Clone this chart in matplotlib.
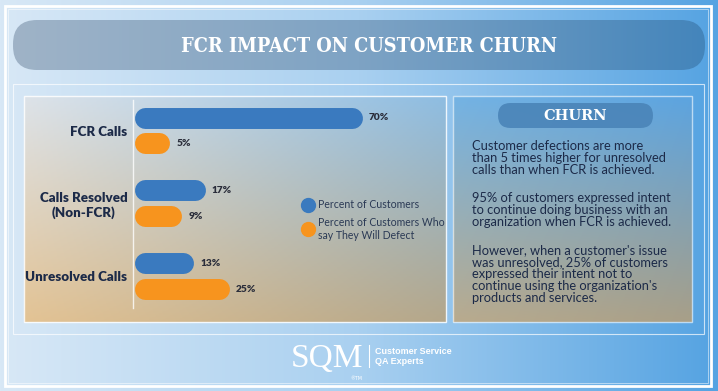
import numpy as np
import matplotlib
matplotlib.use("Agg")
import matplotlib.pyplot as plt
from matplotlib.patches import FancyBboxPatch, Rectangle
from matplotlib.lines import Line2D
from matplotlib.colors import to_rgb

# datos del grafico
categorias = ["FCR Calls", "Calls Resolved\n(Non-FCR)", "Unresolved Calls"]
pct_clientes = [70, 17, 13]
pct_desertan = [5, 9, 25]
series = ["Percent of Customers", "Percent of Customers Who\nsay They Will Defect"]

titulo = "FCR IMPACT ON CUSTOMER CHURN"
parrafos = [
    "Customer defections are more\nthan 5 times higher for unresolved\ncalls than when FCR is achieved.",
    "95% of customers expressed intent\nto continue doing business with an\norganization when FCR is achieved.",
    "However, when a customer's issue\nwas unresolved, 25% of customers\nexpressed their intent not to\ncontinue using the organization's\nproducts and services.",
]

AZUL = "#3a7abf"
NARANJA = "#f7941e"
TINTA = "#1c2a48"
W, H = 718, 391


def degradado_h(colores, n=256):
    stops = np.linspace(0, 1, len(colores))
    cols = np.array([to_rgb(c) for c in colores])
    t = np.linspace(0, 1, n)
    fila = np.stack([np.interp(t, stops, cols[:, k]) for k in range(3)], axis=-1)
    return fila[np.newaxis, :, :]


def degradado_4(tl, tr, bl, br, n=128):
    tl, tr, bl, br = [np.array(to_rgb(c)) for c in (tl, tr, bl, br)]
    u = np.linspace(0, 1, n)[np.newaxis, :, np.newaxis]
    v = np.linspace(0, 1, n)[:, np.newaxis, np.newaxis]
    arriba = tl * (1 - u) + tr * u
    abajo = bl * (1 - u) + br * u
    return arriba * (1 - v) + abajo * v


fig = plt.figure(figsize=(W / 100, H / 100), dpi=100)
bg = fig.add_axes([0, 0, 1, 1])
bg.set_xlim(0, W)
bg.set_ylim(H, 0)
bg.axis("off")

# fondo general
bg.imshow(degradado_h(["#d8e8f6", "#a9d0f0", "#55a3e2"]), extent=(0, W, H, 0), aspect="auto", zorder=0)
bg.add_patch(Rectangle((5, 6), 706, 380, fill=False, ec="white", lw=2, zorder=1))
bg.add_patch(Rectangle((8, 9), 700, 374, fill=False, ec="white", lw=0.6, alpha=0.6, zorder=1))
bg.add_patch(Rectangle((13, 84), 691, 250, fill=False, ec="white", lw=0.8, alpha=0.7, zorder=1))

# cinta del titulo
cinta = FancyBboxPatch((13, 20), 692, 50, boxstyle="round,pad=0,rounding_size=24",
                       fc="none", ec="none", zorder=2)
bg.add_patch(cinta)
im = bg.imshow(degradado_h(["#9fb3c7", "#7ea3c4", "#4485bb"]), extent=(13, 705, 70, 20),
               aspect="auto", zorder=2)
im.set_clip_path(cinta)
bg.text(369, 45.5, titulo, color="white", fontsize=14.2, fontweight="bold",
        family="DejaVu Serif", fontstretch="condensed", ha="center", va="center", zorder=3)

# panel izquierdo
bg.imshow(degradado_4("#dde3e9", "#8ebde2", "#e3c394", "#b4a78b"), extent=(24, 446, 322, 96),
          aspect="auto", zorder=2)
bg.add_patch(Rectangle((24, 96), 422, 226, fill=False, ec="white", lw=1, alpha=0.85, zorder=3))

# panel derecho
bg.imshow(degradado_4("#74b3e4", "#5ca4e0", "#b9ab8e", "#a89f88"), extent=(453, 692, 322, 96),
          aspect="auto", zorder=2)
bg.add_patch(Rectangle((453, 96), 239, 226, fill=False, ec="white", lw=1, alpha=0.6, zorder=3))
bg.add_patch(FancyBboxPatch((498, 103), 155, 25, boxstyle="round,pad=0,rounding_size=12.5",
                            fc="#4a84b8", ec="none", alpha=0.9, zorder=3))
bg.text(575.5, 115.5, "CHURN", color="white", fontsize=10.5, fontweight="bold",
        family="DejaVu Serif", ha="center", va="center", zorder=4)
for texto, yc in zip(parrafos, [158, 210, 274.5]):
    bg.text(472, yc, texto, color=TINTA, fontsize=9.3, family="Lato", ha="left", va="center",
            linespacing=1.0, zorder=4)

# logo
bg.text(327, 367, "SQM", color="white", fontsize=24, family="Liberation Serif",
        ha="center", va="baseline", zorder=3)
bg.plot([369, 369], [345, 367], color="white", lw=0.8, zorder=3)
bg.text(375, 356.5, "Customer Service\nQA Experts", color="white", fontsize=6.5,
        family="Liberation Sans", fontweight="bold", ha="left", va="center", linespacing=1.0, zorder=3)
bg.text(356, 379, "®TM", color="white", fontsize=3.5, ha="center", va="center", zorder=3)

# grafico de barras
x0_px, x1_px, top_px, bot_px = 133, 440.5, 100, 308
ax = fig.add_axes([x0_px / W, 1 - bot_px / H, (x1_px - x0_px) / W, (bot_px - top_px) / H])
ax.patch.set_alpha(0)
ax.set_xlim(-3.9, 100)
ax.set_ylim(2.432, -0.418)
off = 0.178
lw = 15.1
for i, (a, b) in enumerate(zip(pct_clientes, pct_desertan)):
    for v, y, c in ((a, i - off, AZUL), (b, i + off, NARANJA)):
        ax.plot([0, v], [y, y], color=c, lw=lw, solid_capstyle="round")
        ax.annotate(f"{v}%", xy=(v, y), xytext=(17, 0), textcoords="offset pixels",
                    ha="left", va="center", fontsize=7.3, fontweight="heavy",
                    color="#2a2d3a", family="Lato")

for s in ["top", "right", "bottom"]:
    ax.spines[s].set_visible(False)
ax.spines["left"].set_color("white")
ax.spines["left"].set_alpha(0.8)
ax.spines["left"].set_linewidth(1)
ax.set_xticks([])
ax.set_yticks(range(len(categorias)))
ax.set_yticklabels(categorias, fontsize=9.6, fontweight="heavy", color=TINTA, family="Lato")
for t in ax.get_yticklabels():
    t.set_multialignment("center")
ax.tick_params(axis="y", length=0, pad=4)

manejadores = [Line2D([], [], ls="", marker="o", markersize=10, color=c) for c in (AZUL, NARANJA)]
ax.legend(manejadores, series, loc="center left", bbox_to_anchor=(297 / W, 1 - 220 / H),
          bbox_transform=fig.transFigure, frameon=False, borderpad=0, handlelength=1,
          handletextpad=0.5, labelspacing=0.6, prop={"family": "Lato", "size": 7.6},
          labelcolor="#2b3a55")

fig.savefig("out.png", dpi=100)
plt.close(fig)
